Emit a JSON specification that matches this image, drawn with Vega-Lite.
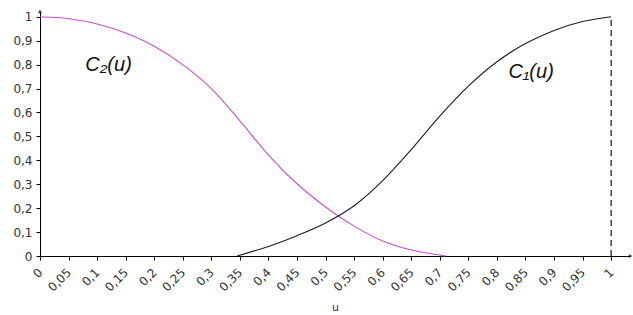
{
  "$schema": "https://vega.github.io/schema/vega-lite/v6.json",
  "autosize": "none",
  "width": 590,
  "height": 244,
  "padding": {"left": 40, "top": 12, "right": 3, "bottom": 59},
  "background": "white",
  "config": {
    "view": {"stroke": null},
    "font": "DejaVu Sans",
    "axis": {"grid": false, "domainColor": "#000", "tickColor": "#000", "labelColor": "#333", "labelFont": "DejaVu Sans", "labelFontSize": 12}
  },
  "datasets": {
    "curves": [
      {"u": 0.0, "v": 1.0, "s": "C2"},
      {"u": 0.05, "v": 0.992, "s": "C2"},
      {"u": 0.1, "v": 0.97, "s": "C2"},
      {"u": 0.15, "v": 0.932, "s": "C2"},
      {"u": 0.2, "v": 0.877, "s": "C2"},
      {"u": 0.25, "v": 0.8, "s": "C2"},
      {"u": 0.3, "v": 0.7, "s": "C2"},
      {"u": 0.35, "v": 0.565, "s": "C2"},
      {"u": 0.4, "v": 0.422, "s": "C2"},
      {"u": 0.45, "v": 0.302, "s": "C2"},
      {"u": 0.5, "v": 0.205, "s": "C2"},
      {"u": 0.55, "v": 0.125, "s": "C2"},
      {"u": 0.6, "v": 0.063, "s": "C2"},
      {"u": 0.65, "v": 0.025, "s": "C2"},
      {"u": 0.7, "v": 0.004, "s": "C2"},
      {"u": 0.71, "v": 0.0, "s": "C2"},
      {"u": 0.345, "v": 0.0, "s": "C1"},
      {"u": 0.4, "v": 0.04, "s": "C1"},
      {"u": 0.45, "v": 0.085, "s": "C1"},
      {"u": 0.5, "v": 0.138, "s": "C1"},
      {"u": 0.55, "v": 0.21, "s": "C1"},
      {"u": 0.6, "v": 0.315, "s": "C1"},
      {"u": 0.65, "v": 0.445, "s": "C1"},
      {"u": 0.7, "v": 0.585, "s": "C1"},
      {"u": 0.75, "v": 0.71, "s": "C1"},
      {"u": 0.8, "v": 0.812, "s": "C1"},
      {"u": 0.85, "v": 0.888, "s": "C1"},
      {"u": 0.9, "v": 0.943, "s": "C1"},
      {"u": 0.95, "v": 0.98, "s": "C1"},
      {"u": 1.0, "v": 1.0, "s": "C1"}
    ],
    "labels": [
      {"u": 0.12, "v": 0.8, "t": "C₂(u)"},
      {"u": 0.86, "v": 0.77, "t": "C₁(u)"}
    ],
    "dash": [
      {"u": 1.0, "v": 0.0, "v2": 1.0}
    ],
    "arrows": [
      {"u": 1.033, "v": 0.0, "a": 90},
      {"u": 0.0, "v": 1.02, "a": 0}
    ]
  },
  "encoding": {
    "x": {
      "field": "u", "type": "quantitative",
      "scale": {"domain": [0, 1.033], "nice": false, "zero": false},
      "axis": {
        "title": "u", "titleFont": "DejaVu Sans", "titleFontSize": 11, "titleFontWeight": "normal", "titleColor": "#333", "titlePadding": 8,
        "values": [0, 0.05, 0.1, 0.15, 0.2, 0.25, 0.3, 0.35, 0.4, 0.45, 0.5, 0.55, 0.6, 0.65, 0.7, 0.75, 0.8, 0.85, 0.9, 0.95, 1],
        "labelExpr": "replace(format(datum.value, '.2~f'), '.', ',')",
        "labelAngle": -45, "labelAlign": "right", "labelBaseline": "middle", "labelPadding": 10, "labelDx": 8,
        "tickSize": 4, "labelOverlap": false, "labelBound": false, "labelFlush": false
      }
    },
    "y": {
      "field": "v", "type": "quantitative",
      "scale": {"domain": [0, 1.02], "nice": false},
      "axis": {
        "title": null,
        "values": [0, 0.1, 0.2, 0.3, 0.4, 0.5, 0.6, 0.7, 0.8, 0.9, 1],
        "labelExpr": "replace(format(datum.value, '.1~f'), '.', ',')",
        "tickSize": 4, "labelPadding": 4, "labelOverlap": false
      }
    }
  },
  "layer": [
    {
      "data": {"name": "curves"},
      "mark": {"type": "line", "strokeWidth": 1.1, "interpolate": "monotone"},
      "encoding": {
        "color": {
          "field": "s", "type": "nominal",
          "scale": {"domain": ["C1", "C2"], "range": ["#1a1a33", "#c64fc6"]},
          "legend": null
        }
      }
    },
    {
      "data": {"name": "dash"},
      "mark": {"type": "rule", "color": "#111", "strokeDash": [6, 4], "strokeWidth": 1.2},
      "encoding": {
        "y2": {"field": "v2"}
      }
    },
    {
      "data": {"name": "labels"},
      "mark": {"type": "text", "fontSize": 20, "fontStyle": "italic", "font": "Liberation Sans", "color": "#111"},
      "encoding": {
        "text": {"field": "t"}
      }
    },
    {
      "data": {"name": "arrows"},
      "mark": {"type": "point", "shape": "triangle", "filled": true, "color": "#000", "size": 18},
      "encoding": {
        "angle": {"field": "a", "type": "quantitative", "scale": null}
      }
    }
  ]
}
